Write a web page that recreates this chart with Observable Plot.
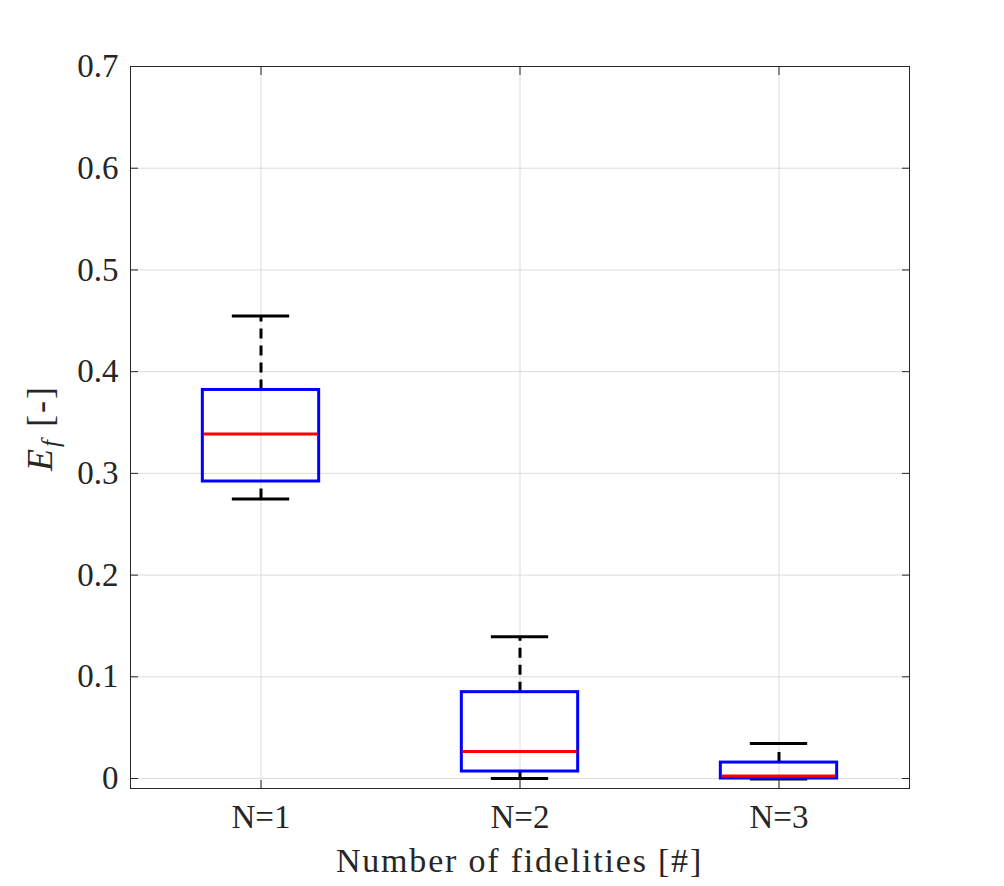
<!DOCTYPE html>
<html>
<head>
<meta charset="utf-8">
<script src="https://cdn.jsdelivr.net/npm/d3@7"></script>
<script src="https://cdn.jsdelivr.net/npm/@observablehq/plot@0.6"></script>
<style>
body { margin: 0; background: #fff; }
#chart svg { display: block; }
</style>
</head>
<body>
<div id="chart"></div>
<script>
const categories = ["N=1", "N=2", "N=3"];
const lowerWhisker = [0.2748, 0.0000, -0.0005];
const q1 = [0.2920, 0.0069, 0.0000];
const median = [0.3387, 0.0265, 0.0026];
const q3 = [0.3820, 0.0849, 0.0157];
const upperWhisker = [0.4547, 0.1393, 0.0344];
const yTicks = [0, 0.1, 0.2, 0.3, 0.4, 0.5, 0.6, 0.7];

const boxes = categories.map((c, i) => ({
  cat: c, lo: lowerWhisker[i], q1: q1[i], med: median[i], q3: q3[i], hi: upperWhisker[i]
}));

const W = 1004, H = 886;
const mL = 130, mR = 95, mT = 66, mB = 98;
const step = (W - mL - mR) / categories.length;
const boxInset = (step - 117) / 2;
const capInset = (step - 58) / 2;
const font = "'Liberation Serif', 'DejaVu Serif', serif";
const axisColor = "#262626";

const chart = Plot.plot({
  width: W,
  height: H,
  marginLeft: mL,
  marginRight: mR,
  marginTop: mT,
  marginBottom: mB,
  style: { fontFamily: font, fontSize: "33px", color: axisColor, background: "#fff" },
  x: { type: "band", domain: categories, padding: 0, label: null },
  y: { domain: [-0.0098, 0.7], label: null },
  marks: [
    Plot.ruleY(yTicks, { stroke: "#dcdcdc", strokeWidth: 1 }),
    Plot.ruleX(categories, { x: d => d, stroke: "#dcdcdc", strokeWidth: 1 }),
    Plot.ruleX(boxes, { x: "cat", y1: "q3", y2: "hi", stroke: "black", strokeWidth: 3, strokeDasharray: "10,7" }),
    Plot.ruleX(boxes, { x: "cat", y1: "lo", y2: "q1", stroke: "black", strokeWidth: 3, strokeDasharray: "10,7" }),
    Plot.tickY(boxes, { x: "cat", y: "hi", stroke: "black", strokeWidth: 3, insetLeft: capInset, insetRight: capInset }),
    Plot.tickY(boxes, { x: "cat", y: "lo", stroke: "black", strokeWidth: 3, insetLeft: capInset, insetRight: capInset }),
    Plot.barY(boxes, { x: "cat", y1: "q1", y2: "q3", fill: "none", stroke: "#0000ff", strokeWidth: 3, insetLeft: boxInset, insetRight: boxInset }),
    Plot.tickY(boxes, { x: "cat", y: "med", stroke: "#ff0000", strokeWidth: 3, insetLeft: boxInset + 1, insetRight: boxInset + 1 }),
    Plot.frame({ stroke: axisColor, strokeWidth: 1 }),
    Plot.axisY({ ticks: yTicks, tickFormat: d => d3.format(".1f")(d).replace("0.0", "0"), tickSize: 0, tickPadding: 12, label: null, fill: axisColor }),
    Plot.axisY({ anchor: "left", ticks: yTicks, tickSize: -8, text: null, label: null, stroke: axisColor }),
    Plot.axisY({ anchor: "right", ticks: yTicks, tickSize: -8, text: null, label: null, stroke: axisColor }),
    Plot.axisX({ tickSize: 0, tickPadding: 16, label: null, fill: axisColor, style: { letterSpacing: "2px" } }),
    Plot.axisX({ anchor: "bottom", tickSize: -8, text: null, label: null, stroke: axisColor }),
    Plot.axisX({ anchor: "top", tickSize: -8, text: null, label: null, stroke: axisColor })
  ]
});

const svg = d3.select(chart.tagName === "svg" ? chart : chart.querySelector("svg"));

// x axis label
svg.append("text")
  .attr("x", mL + (W - mL - mR) / 2)
  .attr("y", 872)
  .attr("text-anchor", "middle")
  .attr("fill", axisColor)
  .style("font-family", font)
  .style("font-size", "34px")
  .style("letter-spacing", "1.8px")
  .text("Number of fidelities [#]");

// y axis label with italic E and subscript f
const yl = svg.append("text")
  .attr("transform", `translate(52,428) rotate(-90)`)
  .attr("text-anchor", "middle")
  .attr("fill", axisColor)
  .style("font-family", font)
  .style("font-size", "36px")
  .style("letter-spacing", "2px");
yl.append("tspan").attr("font-style", "italic").text("E");
yl.append("tspan").attr("font-style", "italic").attr("font-size", "25px").attr("dy", "7").text("f");
yl.append("tspan").attr("dy", "-7").text(" [-]");

document.getElementById("chart").appendChild(chart);
</script>
</body>
</html>
